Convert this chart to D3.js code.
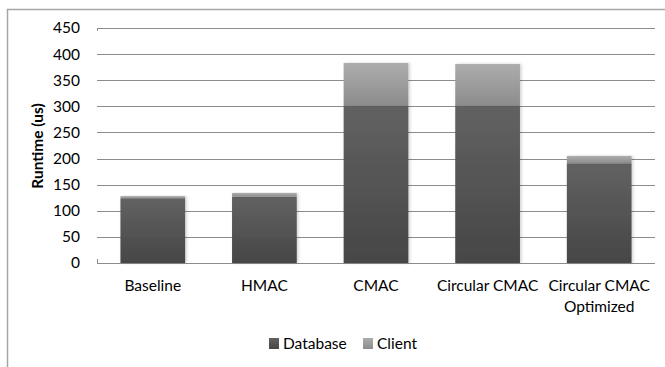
<!DOCTYPE html>
<html><head><meta charset="utf-8">
<script src="https://cdn.jsdelivr.net/npm/d3@7"></script>
<style>body{margin:0;background:#fff;}svg{display:block;font-family:Lato,"Open Sans",sans-serif;}</style>
</head><body>
<svg id="chart" width="665" height="367"></svg>
<script>
const categories = ["Baseline","HMAC","CMAC","Circular CMAC","Circular CMAC\nOptimized"];
const database = [124, 127, 302, 302, 191];
const client = [4, 7, 81, 79, 14];
const seriesNames = ["Database","Client"];
const yTicks = [0,50,100,150,200,250,300,350,400,450];

const svg = d3.select("#chart");
const FS = 15.5;
const x = d3.scaleBand().domain(categories).range([97,655]).paddingInner(0.42).paddingOuter(0.21);
const y = d3.scaleLinear().domain([0,450]).range([263,28]);

const defs = svg.append("defs");
function grad(id, c1, c2){
  const g = defs.append("linearGradient").attr("id",id).attr("x1",0).attr("y1",0).attr("x2",0).attr("y2",1);
  g.append("stop").attr("offset","0%").attr("stop-color",c1);
  g.append("stop").attr("offset","100%").attr("stop-color",c2);
}
grad("gDb","#626262","#464646");
grad("gCl","#adadad","#8c8c8c");
const f = defs.append("filter").attr("id","sh").attr("x","-20%").attr("y","-20%").attr("width","140%").attr("height","140%");
f.append("feDropShadow").attr("dx",1.5).attr("dy",0).attr("stdDeviation",1.5).attr("flood-color","#000").attr("flood-opacity",0.18);

// outer frame (cropped)
svg.append("path").attr("d","M7.5,367 L7.5,9.5 L665,9.5").attr("fill","none").attr("stroke","#a6a6a6").attr("stroke-width",1.5);

// gridlines
svg.append("g").selectAll("line").data(yTicks.filter(d=>d>0)).join("line")
  .attr("x1",97).attr("x2",655).attr("y1",d=>Math.round(y(d))+0.5).attr("y2",d=>Math.round(y(d))+0.5)
  .attr("stroke","#8c8c8c").attr("stroke-width",1);
// y axis via d3
const yAxis = svg.append("g").attr("transform","translate(97,0)")
  .call(d3.axisLeft(y).tickValues(yTicks).tickSize(0).tickPadding(17).tickFormat(d3.format("d")));
yAxis.select(".domain").remove();
yAxis.selectAll("text").attr("font-size",FS).attr("fill","#000").attr("font-family","Lato,sans-serif");
// x axis line
svg.append("line").attr("x1",97).attr("x2",655).attr("y1",Math.round(y(0))+0.5).attr("y2",Math.round(y(0))+0.5).attr("stroke","#8c8c8c");
svg.append("line").attr("x1",97.5).attr("x2",97.5).attr("y1",y(0)-4).attr("y2",y(0)+0.5).attr("stroke","#8c8c8c");
svg.append("line").attr("x1",97.5).attr("x2",97.5).attr("y1",y(450)).attr("y2",y(450)+3).attr("stroke","#8c8c8c");

// stacked bars
const stackData = categories.map((c,i)=>({cat:c, Database:database[i], Client:client[i]}));
const stacked = d3.stack().keys(seriesNames)(stackData);
const fills = {Database:"url(#gDb)", Client:"url(#gCl)"};
svg.append("g").selectAll("g").data(stacked).join("g")
  .attr("fill",d=>fills[d.key])
  .selectAll("rect").data(d=>d).join("rect")
  .attr("filter","url(#sh)")
  .attr("x",d=>x(d.data.cat)).attr("width",x.bandwidth())
  .attr("y",d=>y(d[1])).attr("height",d=>y(d[0])-y(d[1]));

// category labels
const xl = svg.append("g");
categories.forEach(c=>{
  const lines = c.split("\n");
  const t = xl.append("text").attr("text-anchor","middle").attr("font-size",FS).attr("fill","#000")
    .attr("x",x(c)+x.bandwidth()/2).attr("y",291);
  lines.forEach((ln,j)=>t.append("tspan").attr("x",x(c)+x.bandwidth()/2).attr("dy",j?20.5:0).text(ln));
});

// y title
svg.append("text").attr("transform","translate(43,146) rotate(-90)").attr("text-anchor","middle")
  .attr("font-size",FS).attr("font-weight","bold").attr("fill","#000").text("Runtime (us)");

// legend
const legX = [269,363];
const lg = svg.append("g");
seriesNames.forEach((s,i)=>{
  lg.append("rect").attr("x",legX[i]).attr("y",338).attr("width",10).attr("height",11).attr("fill",fills[s]);
  lg.append("text").attr("x",legX[i]+14).attr("y",349).attr("font-size",FS).attr("fill","#000").text(s);
});
</script>
</body></html>
